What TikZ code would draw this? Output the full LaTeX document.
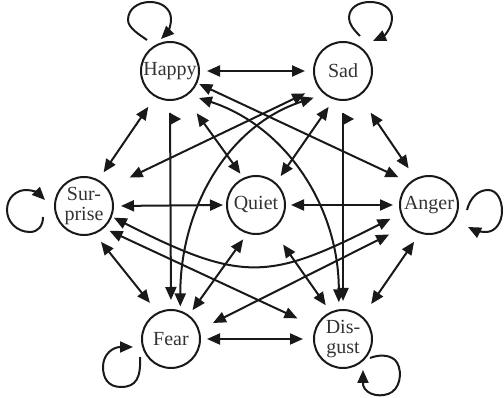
\documentclass[tikz,border=0pt]{standalone}
\usepackage{fontspec}
\setmainfont{Liberation Serif}
\usetikzlibrary{arrows.meta}
\begin{document}
\begin{tikzpicture}[x=1pt,y=1pt,
  >={Triangle[length=13pt,width=11pt]},
  state/.style={circle, draw=black!90, line width=2pt, minimum size=58pt, inner sep=0pt,
    font=\fontsize{20}{20.5}\selectfont, text=black!80, align=center},
  link/.style={line width=2pt, draw=black!90, <->},
  onearrow/.style={line width=2pt, draw=black!90, ->},
  selfloop/.style={line width=2pt, draw=black!90, ->},
  flag/.style={fill=black!90},
]
\useasboundingbox (0,0) rectangle (504,398);

\node[state] (H)  at (170,327) {Happy};
\node[state] (S)  at (343,327) {Sad};
\node[state] (Su) at (84,192)  {Sur-\\prise};
\node[state] (Q)  at (256,193) {Quiet};
\node[state] (A)  at (429,193) {Anger};
\node[state] (F)  at (171,59)  {Fear};
\node[state] (D)  at (343,59)  {Dis-\\gust};

% straight two-way links
\draw[link, shorten <=7pt,  shorten >=8pt]  (H.0)    -- (S.180);
\draw[link, shorten <=12pt, shorten >=9pt]  (H.-120) -- (Su.61);
\draw[link, shorten <=20pt, shorten >=12pt] (S.-57)  -- (A.117);
\draw[link, shorten <=10pt, shorten >=12pt] (Su.-69) -- (F.117);
\draw[link, shorten <=10pt, shorten >=15pt] (A.-108) -- (D.49);
\draw[link, shorten <=6pt,  shorten >=10pt] (F.0)    -- (D.180);
\draw[link, shorten <=7pt,  shorten >=3pt]  (Su.0)   -- (Q.180);
\draw[link, shorten <=5pt,  shorten >=6pt]  (Q.0)    -- (A.180);
\draw[link, shorten <=20pt, shorten >=5pt]  (H.-60)  -- (Q.115);
\draw[link, shorten <=9pt,  shorten >=8pt]  (S.-108) -- (Q.48);
\draw[link, shorten <=6pt,  shorten >=7pt]  (F.53)   -- (Q.-107);
\draw[link, shorten <=8pt,  shorten >=18pt] (D.115)  -- (Q.-56);
\draw[link, shorten <=2pt,  shorten >=12pt] (H.-24)  -- (A.131);
\draw[link, shorten <=14pt, shorten >=24pt] (S.-147) -- (Su.37);
\draw[link, shorten <=6pt,  shorten >=20pt] (Su.-48) -- (D.156);
\draw[link, shorten <=15pt, shorten >=20pt] (F.18)   -- (A.-137);

% curved two-way links
\draw[link, shorten <=2pt, shorten >=11pt] (Su.-21) to[out=-27, in=-153, looseness=1.3] (A.-163);
\draw[link, shorten <=11pt, shorten >=7pt] (H.-52) to[out=-18, in=90] (D.98);
\draw[link, shorten <=11pt, shorten >=4pt] (S.-129) to[out=-162, in=90] (F.72);

% vertical links with flag ends
\draw[onearrow, shorten <=12pt, shorten >=9pt] (H.-90) -- (F.90);
\fill[flag] ([yshift=-12pt]H.south) -- ++(11,-6) -- ++(-11,-6) -- cycle;
\draw[onearrow, shorten <=12pt, shorten >=8pt] (S.-90) -- (D.90);
\fill[flag] ([yshift=-12pt]S.south) -- ++(11,-6) -- ++(-11,-6) -- cycle;

% self loops (coordinates relative to the node, y pointing down)
\begin{scope}[shift={(H.center)}, yscale=-1]
  \draw[selfloop] (-23,-31) .. controls (-30,-36) and (-42,-43) .. (-42,-51)
    .. controls (-42,-62) and (-32,-69) .. (-20,-69)
    .. controls (-8,-69) and (1,-62) .. (1,-52)
    .. controls (1,-44) and (-3,-38) .. (-9,-32);
\end{scope}
\begin{scope}[shift={(S.center)}, yscale=-1]
  \draw[selfloop] (17,-35) .. controls (11,-41) and (6,-47) .. (6,-53)
    .. controls (6,-63) and (15,-69) .. (27,-69)
    .. controls (39,-69) and (49,-63) .. (49,-53)
    .. controls (49,-43) and (41,-35) .. (30,-30);
\end{scope}
\begin{scope}[shift={(Su.center)}, yscale=-1]
  \draw[selfloop] (-41,11) .. controls (-41,20) and (-46,26) .. (-54,26)
    .. controls (-67,26) and (-77,16) .. (-77,4)
    .. controls (-77,-9) and (-67,-16) .. (-58,-16)
    .. controls (-51,-16) and (-46,-13) .. (-39,-6);
\end{scope}
\begin{scope}[shift={(A.center)}, yscale=-1]
  \draw[selfloop] (38,5) .. controls (41,-7) and (49,-15) .. (59,-15)
    .. controls (68,-15) and (73,-5) .. (73,6)
    .. controls (73,18) and (66,27) .. (57,27)
    .. controls (51,27) and (45,25) .. (39,22);
\end{scope}
\begin{scope}[shift={(F.center)}, yscale=-1]
  \draw[selfloop] (-31,18) .. controls (-30,39) and (-35,48) .. (-50,48)
    .. controls (-63,48) and (-68,39) .. (-68,28)
    .. controls (-68,15) and (-58,8) .. (-38,8);
\end{scope}
\begin{scope}[shift={(D.center)}, yscale=-1]
  \draw[selfloop] (27,19) .. controls (35,16) and (45,15) .. (52,21)
    .. controls (59,28) and (59,46) .. (49,53)
    .. controls (40,59) and (23,57) .. (20,46)
    -- (20,31);
\end{scope}
\end{tikzpicture}
\end{document}
